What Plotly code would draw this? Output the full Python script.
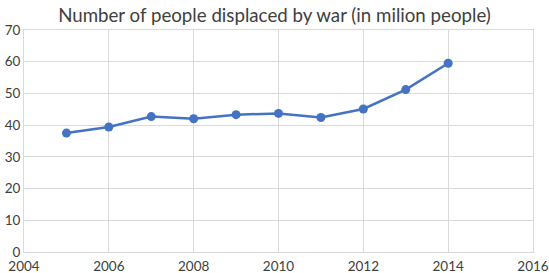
import plotly.graph_objects as go

years = [2005, 2006, 2007, 2008, 2009, 2010, 2011, 2012, 2013, 2014]
displaced = [37.5, 39.4, 42.7, 42.0, 43.3, 43.7, 42.4, 45.1, 51.2, 59.5]
x_ticks = [2004, 2006, 2008, 2010, 2012, 2014, 2016]
y_ticks = [0, 10, 20, 30, 40, 50, 60, 70]

fig = go.Figure()
fig.add_trace(go.Scatter(
    x=years, y=displaced, mode="lines+markers",
    line=dict(color="#4472C4", width=2.5),
    marker=dict(color="#4472C4", size=9),
    cliponaxis=False,
))

font_family = "Lato, 'Open Sans', sans-serif"
fig.update_layout(
    width=549, height=273,
    margin=dict(l=24, r=16, t=30, b=21),
    paper_bgcolor="white", plot_bgcolor="white",
    showlegend=False,
    title=dict(text="Number of people displaced by war (in milion people)",
               x=0.5, xanchor="center", y=0.945, yanchor="middle",
               font=dict(family=font_family, size=18.7, color="#404040")),
    font=dict(family=font_family, size=13.5, color="#404040"),
)
fig.update_xaxes(range=[2004, 2016], tickvals=x_ticks, ticktext=[str(t) for t in x_ticks],
                 showgrid=True, gridcolor="#d9d9d9", gridwidth=1,
                 showline=True, linecolor="#d9d9d9", linewidth=1, mirror=True,
                 zeroline=False, ticks="outside", ticklen=2, tickcolor="rgba(0,0,0,0)",
                 automargin=False)
fig.update_yaxes(range=[0, 70], tickvals=y_ticks,
                 showgrid=True, gridcolor="#d9d9d9", gridwidth=1,
                 showline=True, linecolor="#d9d9d9", linewidth=1, mirror=True,
                 zeroline=False, ticks="", ticklen=0, automargin=False)

fig.write_html("out.html", config={"displayModeBar": False},
               post_script="document.body.style.margin='0';")
